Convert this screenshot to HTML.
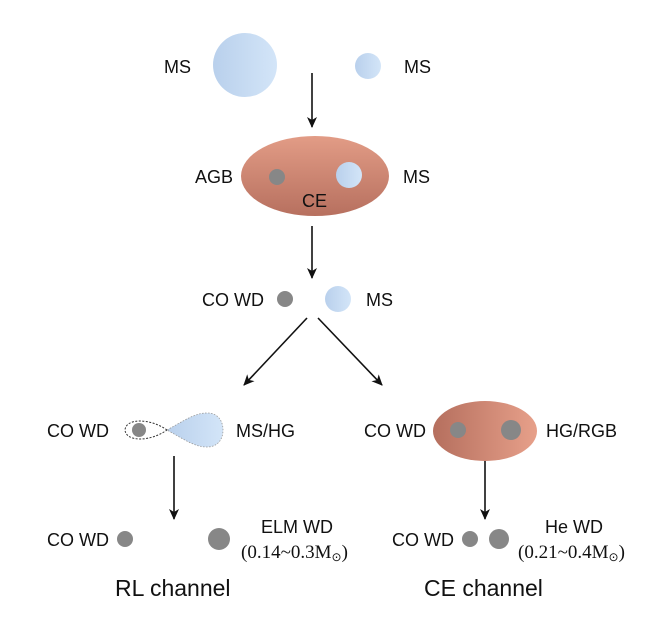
<!DOCTYPE html>
<html><head><meta charset="utf-8"><style>
html,body{margin:0;padding:0;background:#fff;}
svg{display:block;}
text{font-family:"Liberation Sans",sans-serif;font-size:18px;fill:#111;}
.s{font-family:"Liberation Serif",serif;font-size:19px;}
</style></head><body>
<svg width="670" height="626" viewBox="0 0 670 626" xmlns="http://www.w3.org/2000/svg">
<defs>
<linearGradient id="blue" x1="0" y1="0" x2="1" y2="0"><stop offset="0" stop-color="#b9d0ec"/><stop offset="1" stop-color="#d3e5f8"/></linearGradient>
<linearGradient id="ce1" x1="0" y1="0" x2="0" y2="1"><stop offset="0" stop-color="#e29c86"/><stop offset="1" stop-color="#b7705f"/></linearGradient>
<linearGradient id="ce2" x1="0" y1="0" x2="1" y2="0"><stop offset="0" stop-color="#b56f5e"/><stop offset="1" stop-color="#e7a08a"/></linearGradient>
<marker id="ah" markerWidth="12" markerHeight="12" refX="10" refY="6" orient="auto" markerUnits="userSpaceOnUse"><path d="M0,1 L11,6 L0,11 L3,6 Z" fill="#111"/></marker>
</defs>
<g stroke="#111" stroke-width="1.6" marker-end="url(#ah)">
<line x1="312" y1="73" x2="312" y2="127"/>
<line x1="312" y1="226" x2="312" y2="278"/>
<line x1="307" y1="318" x2="244" y2="385"/>
<line x1="318" y1="318" x2="382" y2="385"/>
<line x1="174" y1="456" x2="174" y2="519"/>
<line x1="485" y1="458" x2="485" y2="519"/>
</g>
<circle cx="245" cy="65" r="32" fill="url(#blue)"/>
<circle cx="368" cy="66" r="13" fill="url(#blue)"/>
<text x="164" y="73">MS</text><text x="404" y="73">MS</text>
<ellipse cx="315" cy="176" rx="74" ry="40" fill="url(#ce1)"/>
<circle cx="277" cy="177" r="8" fill="#878787"/>
<circle cx="349" cy="175" r="13" fill="url(#blue)"/>
<text x="195" y="183">AGB</text><text x="403" y="183">MS</text><text x="302" y="207">CE</text>
<circle cx="285" cy="299" r="8" fill="#878787"/>
<circle cx="338" cy="299" r="13" fill="url(#blue)"/>
<text x="202" y="306">CO WD</text><text x="366" y="306">MS</text>
<path d="M167,430 C150,418 126,418 125,430 C126,442 150,442 167,430 Z" fill="none" stroke="#333" stroke-width="1" stroke-dasharray="2,1.5"/>
<path d="M167,430 C185,420 195,413 207,413 C218,413 223,421 223,430 C223,439 218,447 207,447 C195,447 185,440 167,430 Z" fill="url(#blue)" stroke="#999" stroke-width="0.8" stroke-dasharray="1.5,1.5"/>
<circle cx="139" cy="430" r="7" fill="#878787"/>
<text x="47" y="437">CO WD</text><text x="236" y="437">MS/HG</text>
<ellipse cx="485" cy="431" rx="52" ry="30" fill="url(#ce2)"/>
<circle cx="458" cy="430" r="8" fill="#878787"/>
<circle cx="511" cy="430" r="10" fill="#878787"/>
<text x="364" y="437">CO WD</text><text x="546" y="437">HG/RGB</text>
<circle cx="125" cy="539" r="8" fill="#878787"/>
<circle cx="219" cy="539" r="11" fill="#878787"/>
<text x="47" y="546">CO WD</text>
<text x="261" y="533">ELM WD</text>
<text class="s" x="241" y="558">(0.14~0.3M<tspan font-size="12" dy="3">⊙</tspan><tspan dy="-3">)</tspan></text>
<circle cx="470" cy="539" r="8" fill="#878787"/>
<circle cx="499" cy="539" r="10" fill="#878787"/>
<text x="392" y="546">CO WD</text>
<text x="545" y="533">He WD</text>
<text class="s" x="518" y="558">(0.21~0.4M<tspan font-size="12" dy="3">⊙</tspan><tspan dy="-3">)</tspan></text>
<text x="115" y="596" style="font-size:23px">RL channel</text>
<text x="424" y="596" style="font-size:23px">CE channel</text>
</svg>
</body></html>
